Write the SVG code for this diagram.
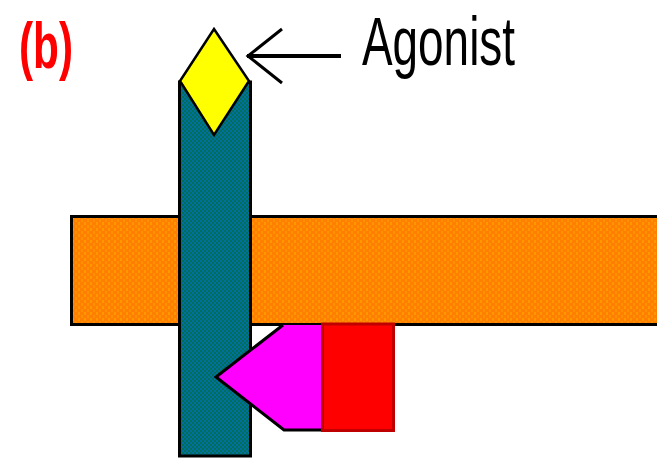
<svg xmlns="http://www.w3.org/2000/svg" width="657" height="458" viewBox="0 0 657 458">
<defs>
<pattern id="orangeDots" width="6" height="6" patternUnits="userSpaceOnUse">
<rect width="6" height="6" fill="#ff8000"/>
<rect x="0" y="0" width="2" height="3" fill="#ff9800"/>
<rect x="3" y="3" width="2" height="3" fill="#ff9000"/>
</pattern>
<pattern id="tealChecker" width="4" height="4" patternUnits="userSpaceOnUse">
<rect width="4" height="4" fill="#006e5a"/>
<rect x="0" y="0" width="2" height="2" fill="#0070a0"/>
<rect x="2" y="2" width="2" height="2" fill="#0070a0"/>
</pattern>
</defs>
<style>
.outline{stroke:#000;stroke-width:3;stroke-linejoin:miter}
.lbl{font-family:"Liberation Sans",Arial,sans-serif}
</style>
<rect width="657" height="458" fill="#fff"/>
<g id="membrane">
<rect class="outline" x="71.5" y="216.5" width="600" height="108" fill="url(#orangeDots)"/>
</g>
<g id="receptor">
<rect class="outline" x="179.5" y="82" width="71" height="374" fill="url(#tealChecker)"/>
</g>
<g id="agonist">
<polygon points="214,29 249,81 214,135 180,81" fill="#ffff00" stroke="#000" stroke-width="2.5"/>
</g>
<g id="gprotein">
<polygon points="283,325 322,325 322,430 284,430 216,377" fill="#ff00ff"/>
<polyline points="283,325 216,377 284,430 322,430" fill="none" class="outline"/>
<rect x="322.5" y="324" width="71" height="106.5" fill="#ff0000" stroke="#c00000" stroke-width="3"/>
</g>
<g id="connectors">
<line x1="247" y1="56" x2="341" y2="56" stroke="#000" stroke-width="4"/>
<polyline points="282,29 248,56 282,83" fill="none" stroke="#000" stroke-width="3"/>
</g>
<g id="labels">
<text class="lbl" x="362" y="65" font-size="68" textLength="153" lengthAdjust="spacingAndGlyphs" fill="#000">Agonist</text>
<text class="lbl" x="19" y="68" font-size="64" font-weight="bold" textLength="54" lengthAdjust="spacingAndGlyphs" fill="#ff0000">(b)</text>
</g>
</svg>
